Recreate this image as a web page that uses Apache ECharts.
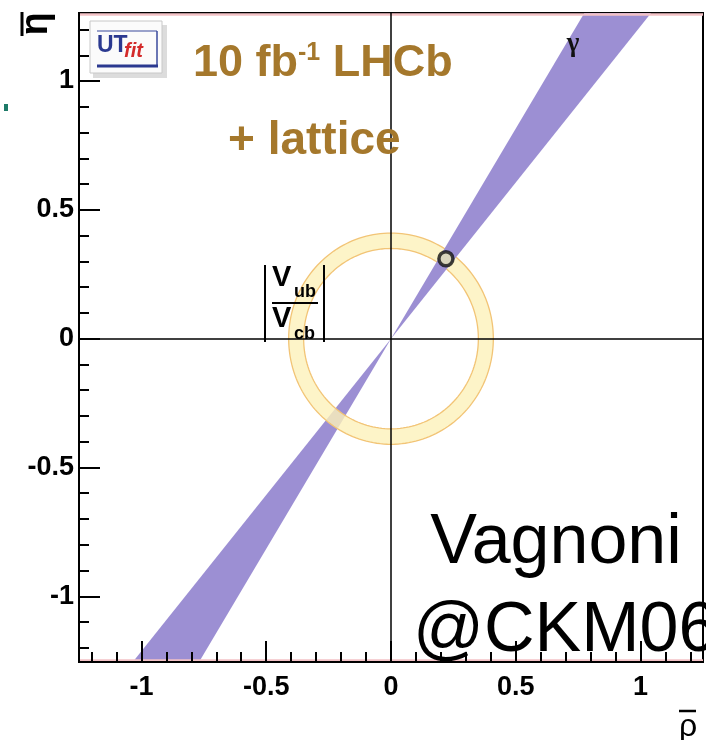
<!DOCTYPE html>
<html>
<head>
<meta charset="utf-8">
<script src="https://cdn.jsdelivr.net/npm/echarts@6/dist/echarts.min.js"></script>
<style>
  html, body { margin: 0; padding: 0; background: #fff; }
  #chart { width: 706px; height: 740px; }
</style>
</head>
<body>
<div id="chart"></div>
<script>
// (rho-bar, eta-bar) plane: gamma constraint band and |Vub/Vcb| ring, LHCb 10 fb^-1 + lattice
const rhoRange = [-1.25, 1.25];
const etaRange = [-1.255, 1.264];

const majorTicks = [-1, -0.5, 0, 0.5, 1];
const majorTickLabels = ['-1', '-0.5', '0', '0.5', '1'];
const minorTicks = [-1.2, -1.1, -0.9, -0.8, -0.7, -0.6, -0.4, -0.3, -0.2, -0.1,
                    0.1, 0.2, 0.3, 0.4, 0.6, 0.7, 0.8, 0.9, 1.1, 1.2];

// gamma band edges, in degrees measured from the rho axis
const gammaBandDeg = [50.5, 58.5];
// |Vub/Vcb| ring: inner and outer radius around the origin
const vubVcbRadii = [0.35, 0.41];
// fitted apex of the triangle
const apexPoint = [0.22, 0.31];
// thin pink frame trims just inside the top and bottom border
const frameTrimEta = [1.258, -1.249];

const BAND_COLOR = '#9c8fd3';
const RING_FILL = '#fcf1ba';
const RING_EDGE = '#f2c476';
const FONT = '"Liberation Sans", Arial, Helvetica, sans-serif';
const GOLD = '#a5782c';

const chart = echarts.init(document.getElementById('chart'), null, { renderer: 'canvas' });

function bandLobe(params, api) {
  const g0 = api.value(0) * Math.PI / 180;
  const g1 = api.value(1) * Math.PI / 180;
  const s = api.value(2);
  const R = 4;
  return {
    type: 'polygon',
    shape: {
      points: [
        api.coord([0, 0]),
        api.coord([s * R * Math.cos(g0), s * R * Math.sin(g0)]),
        api.coord([s * R * Math.cos(g1), s * R * Math.sin(g1)])
      ]
    },
    style: { fill: BAND_COLOR, stroke: null }
  };
}

function ringItem(params, api) {
  const r0 = api.value(0), r1 = api.value(1);
  const N = 180;
  const outer = [], inner = [];
  for (let i = 0; i <= N; i++) {
    const t = 2 * Math.PI * i / N;
    outer.push(api.coord([r1 * Math.cos(t), r1 * Math.sin(t)]));
    inner.push(api.coord([r0 * Math.cos(t), r0 * Math.sin(t)]));
  }
  return {
    type: 'group',
    children: [
      { type: 'polygon', shape: { points: outer.concat(inner.slice().reverse()) },
        style: { fill: RING_FILL, opacity: 0.8, stroke: null } },
      { type: 'polyline', shape: { points: outer },
        style: { stroke: RING_EDGE, lineWidth: 1.3, fill: null } },
      { type: 'polyline', shape: { points: inner },
        style: { stroke: RING_EDGE, lineWidth: 1.3, fill: null } }
    ]
  };
}

function majorAxis(pos, range, margin) {
  return {
    type: 'value', position: pos, min: range[0], max: range[1], z: 5,
    axisLine: { show: true, onZero: false, lineStyle: { color: '#000', width: 2 } },
    axisTick: { show: true, inside: true, length: 21, customValues: majorTicks,
                lineStyle: { color: '#000', width: 2 } },
    axisLabel: { show: true, customValues: majorTicks, margin: margin,
                 formatter: v => majorTickLabels[majorTicks.indexOf(v)],
                 color: '#000', fontFamily: FONT, fontWeight: 'bold', fontSize: 27 },
    splitLine: { show: false }
  };
}
function minorAxis(pos, range) {
  return {
    type: 'value', position: pos, min: range[0], max: range[1], z: 5,
    axisLine: { show: false, onZero: false },
    axisTick: { show: true, inside: true, length: 10, customValues: minorTicks,
                lineStyle: { color: '#000', width: 2 } },
    axisLabel: { show: false },
    splitLine: { show: false }
  };
}

const option = {
  backgroundColor: '#fff',
  animation: false,
  grid: { left: 79, right: 3, top: 13, bottom: 78, show: true,
          borderColor: '#000', borderWidth: 2, backgroundColor: 'transparent' },
  xAxis: [majorAxis('bottom', rhoRange, 12), minorAxis('bottom', rhoRange)],
  yAxis: [majorAxis('left', etaRange, 5), minorAxis('left', etaRange)],
  series: [
    { type: 'line', name: 'frame trim', data: [], z: 0, silent: true,
      markLine: { silent: true, symbol: 'none', label: { show: false },
                  lineStyle: { color: '#f3c2c6', width: 2.5, type: 'solid' },
                  data: frameTrimEta.map(v => ({ yAxis: v })) } },
    { type: 'custom', name: 'gamma (lower)', renderItem: bandLobe, clip: true, z: 1,
      data: [[gammaBandDeg[0], gammaBandDeg[1], -1]] },
    { type: 'custom', name: '|Vub/Vcb|', renderItem: ringItem, clip: true, z: 2,
      data: [[vubVcbRadii[0], vubVcbRadii[1]]] },
    { type: 'custom', name: 'gamma (upper)', renderItem: bandLobe, clip: true, z: 3,
      data: [[gammaBandDeg[0], gammaBandDeg[1], 1]] },
    { type: 'line', name: 'axes', data: [], z: 4, silent: true,
      markLine: { silent: true, symbol: 'none', label: { show: false },
                  lineStyle: { color: '#000', width: 1.5, type: 'solid' },
                  data: [{ xAxis: 0 }, { yAxis: 0 }] } },
    { type: 'scatter', name: 'apex', z: 6, symbol: 'circle', symbolSize: 14,
      itemStyle: { color: '#e8e6b8', borderColor: '#111', borderWidth: 3.5 },
      data: [apexPoint] }
  ],
  graphic: [
    // UTfit logo
    { type: 'rect', shape: { x: 93, y: 25, width: 74, height: 53 }, style: { fill: '#dcdcdc' }, z: 10 },
    { type: 'rect', shape: { x: 90, y: 21, width: 72, height: 52 }, style: { fill: '#fbfbfb', stroke: '#c8c8c8', lineWidth: 1 }, z: 11 },
    { type: 'line', shape: { x1: 97, y1: 31, x2: 157, y2: 31 }, style: { stroke: '#3a4a9c', lineWidth: 1.2 }, z: 12 },
    { type: 'line', shape: { x1: 157, y1: 31, x2: 157, y2: 66 }, style: { stroke: '#3a4a9c', lineWidth: 1.5 }, z: 12 },
    { type: 'line', shape: { x1: 97, y1: 66, x2: 158, y2: 66 }, style: { stroke: '#2b3990', lineWidth: 3 }, z: 12 },
    { type: 'text', x: 97, y: 46, z: 12,
      style: { text: 'UT', font: 'bold 23px ' + FONT, fill: '#2b3990', verticalAlign: 'middle', textAlign: 'left' } },
    { type: 'text', x: 124, y: 51, z: 12,
      style: { text: 'fit', font: 'italic bold 20px ' + FONT, fill: '#d42a2a', verticalAlign: 'middle', textAlign: 'left' } },

    // run condition text
    { type: 'text', x: 193, y: 64, z: 12,
      style: { text: '{a|10 fb}{s|-1}{a| LHCb}', verticalAlign: 'middle', textAlign: 'left',
        rich: {
          a: { font: 'bold 45px ' + FONT, fill: GOLD, color: GOLD },
          s: { font: 'bold 25px ' + FONT, fill: GOLD, color: GOLD, padding: [0, 0, 22, 0] }
        } } },
    { type: 'text', x: 228, y: 141, z: 12,
      style: { text: '+ lattice', font: 'bold 46px ' + FONT, fill: GOLD, verticalAlign: 'middle', textAlign: 'left' } },

    // gamma label
    { type: 'text', x: 573, y: 44, z: 12,
      style: { text: 'γ', font: 'bold 27px "Liberation Serif", serif', fill: '#111', verticalAlign: 'middle', textAlign: 'center' } },

    // |Vub/Vcb| label
    { type: 'line', shape: { x1: 265, y1: 265, x2: 265, y2: 342 }, style: { stroke: '#000', lineWidth: 2 }, z: 12 },
    { type: 'line', shape: { x1: 324, y1: 265, x2: 324, y2: 342 }, style: { stroke: '#000', lineWidth: 2 }, z: 12 },
    { type: 'line', shape: { x1: 272, y1: 303, x2: 318, y2: 303 }, style: { stroke: '#000', lineWidth: 2 }, z: 12 },
    { type: 'text', x: 272, y: 278, z: 12,
      style: { text: 'V', font: 'bold 29px ' + FONT, fill: '#000', verticalAlign: 'middle', textAlign: 'left' } },
    { type: 'text', x: 294, y: 292, z: 12,
      style: { text: 'ub', font: 'bold 18px ' + FONT, fill: '#000', verticalAlign: 'middle', textAlign: 'left' } },
    { type: 'text', x: 272, y: 319, z: 12,
      style: { text: 'V', font: 'bold 29px ' + FONT, fill: '#000', verticalAlign: 'middle', textAlign: 'left' } },
    { type: 'text', x: 294, y: 334, z: 12,
      style: { text: 'cb', font: 'bold 18px ' + FONT, fill: '#000', verticalAlign: 'middle', textAlign: 'left' } },

    // author / conference
    { type: 'text', x: 556, y: 544, z: 12,
      style: { text: 'Vagnoni', font: '70px ' + FONT, fill: '#000', verticalAlign: 'middle', textAlign: 'center' } },
    { type: 'text', x: 413, y: 632, z: 12,
      style: { text: '@CKM06', font: '70px ' + FONT, fill: '#000', verticalAlign: 'middle', textAlign: 'left' } },

    // axis titles
    { type: 'text', x: 37, y: 24, rotation: Math.PI / 2, z: 12,
      style: { text: 'η', font: 'bold 38px ' + FONT, fill: '#000', verticalAlign: 'middle', textAlign: 'center' } },
    { type: 'line', shape: { x1: 22, y1: 12, x2: 22, y2: 36 }, style: { stroke: '#000', lineWidth: 3 }, z: 12 },
    { type: 'text', x: 688, y: 727, z: 12,
      style: { text: 'ρ', font: '32px ' + FONT, fill: '#000', verticalAlign: 'middle', textAlign: 'center' } },
    { type: 'line', shape: { x1: 679, y1: 711, x2: 696, y2: 711 }, style: { stroke: '#000', lineWidth: 2.5 }, z: 12 },

    { type: 'rect', shape: { x: 4, y: 104, width: 4, height: 7 }, style: { fill: '#1d7a68' }, z: 12 }
  ]
};

chart.setOption(option);
</script>
</body>
</html>
